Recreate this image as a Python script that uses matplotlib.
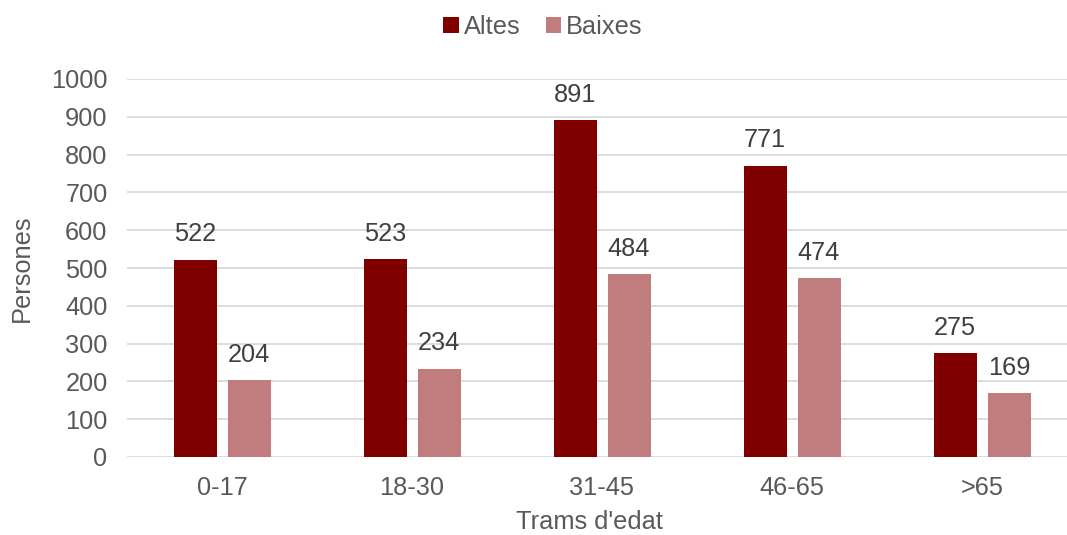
import matplotlib
matplotlib.use("Agg")
import matplotlib.pyplot as plt
import numpy as np

categories = ["0-17", "18-30", "31-45", "46-65", ">65"]
altes = [522, 523, 891, 771, 275]
baixes = [204, 234, 484, 474, 169]
series_names = ["Altes", "Baixes"]
yticks = [0, 100, 200, 300, 400, 500, 600, 700, 800, 900, 1000]

plt.rcParams['font.family'] = ['Liberation Sans', 'DejaVu Sans']

W, H = 1067, 535
fig = plt.figure(figsize=(W/100, H/100), dpi=100)
left, right = 127, 1077
bottom, top = 457, 79
ax = fig.add_axes([left/W, 1 - bottom/H, (right-left)/W, (bottom-top)/H])

x = np.arange(len(categories))
bw = 43/190
off = 27/190
c1, c2 = "#800000", "#C17D7D"
fs = 18.3
b1 = ax.bar(x - off, altes, bw, color=c1, label=series_names[0], zorder=3)
b2 = ax.bar(x + off, baixes, bw, color=c2, label=series_names[1], zorder=3)

for bars, vals in ((b1, altes), (b2, baixes)):
    for r, v in zip(bars, vals):
        ax.annotate(str(v), (r.get_x() + r.get_width()/2, v), xytext=(0, 9.5),
                    textcoords="offset points", ha="center", va="bottom",
                    fontsize=fs, color="#404040")

ax.set_xlim(-0.5, len(categories) - 0.5)
ax.set_ylim(0, 1000)
ax.set_yticks(yticks)
ax.set_xticks(x)
ax.set_xticklabels(categories)
ax.tick_params(axis="both", length=0, labelsize=fs, labelcolor="#595959")
ax.tick_params(axis="x", pad=14)
ax.tick_params(axis="y", pad=14)
ax.grid(axis="y", color="#D9D9D9", linewidth=1.3, zorder=0)
for s in ax.spines.values():
    s.set_visible(False)

fig.text(22/W, 1 - 268/H, "Persones", rotation=90, ha="center", va="center",
         fontsize=fs, color="#595959")
fig.text(590/W, 1 - 522/H, "Trams d'edat", ha="center", va="center",
         fontsize=fs, color="#595959")

fig.legend(loc="center", bbox_to_anchor=(543/W, 1 - 27/H), ncol=2, frameon=False,
           fontsize=fs, handlelength=0.6, handleheight=0.6, handletextpad=0.2,
           columnspacing=1.0, labelcolor="#595959")

fig.savefig("out.png", dpi=100)
